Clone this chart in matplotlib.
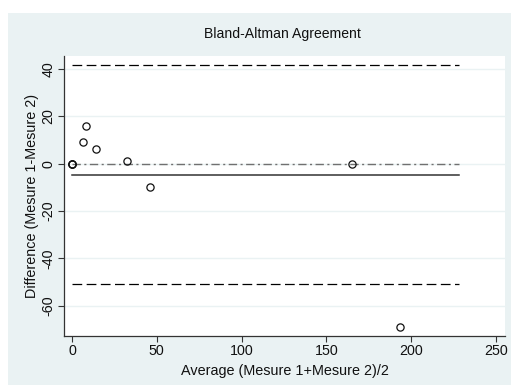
import matplotlib
matplotlib.use("Agg")
import matplotlib.pyplot as plt
from matplotlib.patches import Rectangle
import numpy as np

# Bland-Altman data: average of the two measures vs their difference
avg_vals = [0, 0, 0, 6.7, 8.3, 14.1, 32.6, 46.2, 165.1, 193.4]
diff_vals = [0, 0, 0, 9, 16, 6, 1, -10, 0, -69]

x_ticks = [0, 50, 100, 150, 200, 250]
y_ticks = [-60, -40, -20, 0, 20, 40]

title = "Bland-Altman Agreement"
x_label = "Average (Mesure 1+Mesure 2)/2"
y_label = "Difference (Mesure 1-Mesure 2)"

plt.rcParams['font.family'] = ['Liberation Sans', 'DejaVu Sans']
plt.rcParams['lines.scale_dashes'] = False
plt.rcParams['axes.unicode_minus'] = False

bg = "#eaf2f3"

fig = plt.figure(figsize=(5.11, 3.85), dpi=100, facecolor="white")
fig.patches.append(Rectangle((8 / 511, 0), 1, 1 - 13 / 385, transform=fig.transFigure,
                             facecolor=bg, edgecolor="none", zorder=-10))

ax = fig.add_axes([64 / 511, 1 - 336 / 385, 441 / 511, 280 / 385])
ax.set_facecolor("white")

# mean difference and limits of agreement
d = np.array(diff_vals, dtype=float)
mean_d = d.mean()
sd_d = d.std(ddof=1)
x_end = 228

for yy in y_ticks:
    ax.axhline(yy, color=bg, lw=1.0, zorder=0)

ax.plot([0, x_end], [mean_d + 1.96 * sd_d] * 2, color="black", lw=0.9, dashes=(7, 3.2), zorder=2)
ax.plot([0, x_end], [mean_d - 1.96 * sd_d] * 2, color="black", lw=0.9, dashes=(7, 3.2), zorder=2)
ax.plot([0, x_end], [0, 0], color="#707070", lw=1.0, dashes=(6, 2.5, 1.5, 2.5), zorder=2)
ax.plot([0, x_end], [mean_d, mean_d], color="#333333", lw=1.1, zorder=2)

ax.plot(avg_vals, diff_vals, linestyle="none", marker="o", markersize=5.2,
        markerfacecolor="none", markeredgecolor="#111111", markeredgewidth=0.9, zorder=3)

ax.set_xlim(-4.7, 255.3)
ax.set_ylim(-72.8, 45.5)
ax.set_xticks(x_ticks)
ax.set_yticks(y_ticks)
ax.tick_params(axis="both", direction="out", length=4, width=0.8, color="#333333",
               labelsize=10.3, labelcolor="#111111", pad=2)
for lab in ax.get_yticklabels():
    lab.set_rotation(90)
    lab.set_va("center")

for side in ["top", "right"]:
    ax.spines[side].set_visible(False)
for side in ["left", "bottom"]:
    ax.spines[side].set_color("#333333")
    ax.spines[side].set_linewidth(0.9)

ax.set_xlabel(x_label, fontsize=10.4, color="#111111", labelpad=4)
ax.set_ylabel(y_label, fontsize=10.4, color="#111111", labelpad=2)
fig.text(282 / 511, 1 - 34 / 385, title, ha="center", va="center", fontsize=10.1, color="#111111")

fig.savefig("out.png", dpi=100)
